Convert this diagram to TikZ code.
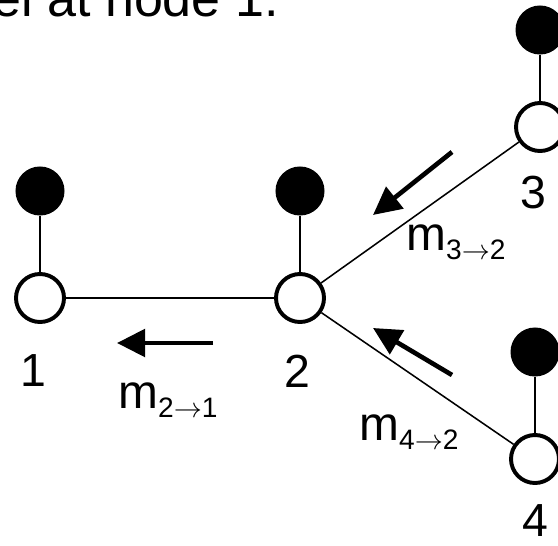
\RequirePackage{fix-cm}
\documentclass[tikz,border=0pt]{standalone}
\usepackage{fontspec}
\setmainfont{Liberation Sans}
\usetikzlibrary{arrows.meta}

\newcommand{\msgsub}[2]{\raisebox{-7pt}{\fontsize{20}{20}\selectfont #1$\rightarrow$#2}}

\begin{document}
\begin{tikzpicture}[x=0.025cm, y=-0.025cm,
      hid/.style={circle, draw, line width=2.8pt, fill=white,
                  minimum size=1.2cm, inner sep=0pt},
      obs/.style={circle, fill=black, minimum size=1.225cm, inner sep=0pt},
      stem/.style={line width=1.4pt},
      ln/.style={line width=1.1pt},
      ar/.style={-{Triangle[length=0.7cm,width=0.68cm]}, line width=3.3pt},
      num/.style={font=\fontsize{33}{36}\selectfont, inner sep=0pt},
      msg/.style={font=\fontsize{34}{36}\selectfont, inner sep=0pt, anchor=base west}
    ]
      \useasboundingbox (0,0) rectangle (558,545);
      \clip (0,0) rectangle (558,545);

      % caption, cut at the top
      \node[font=\fontsize{37}{40}\selectfont, inner sep=0pt, anchor=base east]
        (ttl) at (279,17) {el at node 1.};

      % hidden nodes and their observations
      \node[hid] (n1) at (40,298)  {};
      \node[hid] (n2) at (300,298) {};
      \node[hid] (n3) at (540,127) {};
      \node[hid] (n4) at (535,459) {};
      \node[obs] (o1) at (40,191)  {};
      \node[obs] (o2) at (300,191) {};
      \node[obs] (o3) at (540,30)  {};
      \node[obs] (o4) at (535,352) {};
      \draw[stem] (o1)--(n1);
      \draw[stem] (o2)--(n2);
      \draw[stem] (o3)--(n3);
      \draw[stem] (o4)--(n4);

      % tree edges
      \draw[line width=1.9pt] (n1)--(n2);
      \draw[ln] (n2)--(n3);
      \draw[ln] (n2)--(n4);

      % node numbers
      \node[num] (t1) at (33,371)  {1};
      \node[num] (t2) at (297,371) {2};
      \node[num] (t3) at (533,193) {3};
      \node[num] (t4) at (535,521) {4};

      % messages
      \coordinate (a21s) at (213,343);
      \coordinate (a21e) at (117,343);
      \coordinate (a32s) at (452,152);
      \coordinate (a32e) at (373,215);
      \coordinate (a42s) at (452,375);
      \coordinate (a42e) at (373,328);
      \draw[ar] (a21s)--(a21e);
      \draw[ar] (a32s)--(a32e);
      \draw[ar] (a42s)--(a42e);
      \node[msg] (m21) at (118,408) {m\msgsub{2}{1}};
      \node[msg] (m32) at (406,250) {m\msgsub{3}{2}};
      \node[msg] (m42) at (359,440) {m\msgsub{4}{2}};
    \end{tikzpicture}
\end{document}
